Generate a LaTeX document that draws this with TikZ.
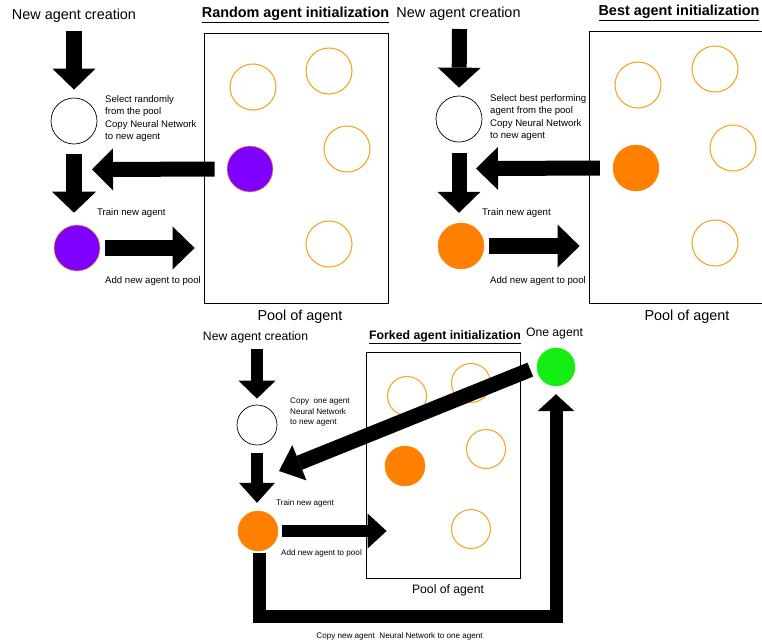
\documentclass[tikz,border=0pt]{standalone}
\usepackage{fontspec}
\setmainfont{Liberation Sans}
\usetikzlibrary{arrows.meta,calc}
\definecolor{agpurple}{RGB}{128,0,255}
\definecolor{agorange}{RGB}{255,128,0}
\definecolor{agring}{RGB}{245,166,35}
\definecolor{aggreen}{RGB}{20,238,20}
\begin{document}
\begin{tikzpicture}[x=1pt,y=-1pt,
  fat/.style n args={3}{line width=#1, line cap=butt, line join=miter,
    arrows={-{Triangle[width=#2,length=#3,line width=0pt]}}},
  ring/.style={circle, draw=agring, line width=1.1pt, inner sep=0pt, minimum size=#1},
  newag/.style={circle, draw=black, line width=0.7pt, fill=white, inner sep=0pt, minimum size=#1},
  purpleag/.style={circle, draw=agring, line width=0.6pt, fill=agpurple, inner sep=0pt, minimum size=#1},
  orangeag/.style={circle, draw=agorange, fill=agorange, inner sep=0pt, minimum size=#1},
  greenag/.style={circle, draw=aggreen, fill=aggreen, inner sep=0pt, minimum size=#1},
  poolbox/.style={draw=black, line width=0.8pt, inner sep=0pt},
  big/.style={font=\fontsize{14.4}{16}\selectfont, inner sep=0pt},
  mid/.style={font=\fontsize{12.2}{14}\selectfont, inner sep=0pt},
  ttl/.style={font=\fontsize{#1}{16}\selectfont\bfseries, inner sep=0pt},
  small/.style={font=\fontsize{9.6}{12.3}\selectfont, inner sep=0pt, align=left},
  tiny/.style={font=\fontsize{8.1}{10.5}\selectfont, inner sep=0pt, align=left}
]
\useasboundingbox (0,0) rectangle (762,643);
\clip (0,0) rectangle (762,643);

% ================= Random agent initialization =================
\node[big] (ncA) at (74,16) {New agent creation};
\node[ttl=14.4] (tA) at (295.5,15) {\underline{Random agent initialization}};
\node[poolbox, minimum width=184pt, minimum height=270pt] (poolA) at (296,168) {};
\node[big] (plA) at (300,317) {Pool of agent};
\node[newag=46pt] (wA) at (74,121) {};
\node[purpleag=46pt] (nA) at (77,248) {};
\node[ring=46pt] (rA1) at (253,87) {};
\node[ring=46pt] (rA2) at (329,71) {};
\node[ring=46pt] (rA3) at (347,149) {};
\node[ring=46pt] (rA4) at (329,244) {};
\node[purpleag=46pt] (sA) at (250,169) {};
\node[small, anchor=north west] (txA1) at (105,95.5) {Select randomly\\from the pool\\Copy Neural Network\\to new agent};
\node[small, anchor=west] (txA2) at (97,213) {Train new agent};
\node[small, anchor=west] (txA3) at (105,281) {Add new agent to pool};
\coordinate (sA1) at (74,31);
\coordinate (eA3) at (92,169.5);
\draw[fat={16pt}{43pt}{21pt}, shorten >=8pt] (sA1) -- (wA.north);
\draw[fat={16pt}{44pt}{21pt}, shorten <=10pt, shorten >=12pt] (wA.south) -- (wA.south |- nA.north);
\draw[fat={15pt}{42pt}{21pt}, shorten <=12pt] (sA.west) -- (eA3);
\draw[fat={16pt}{43pt}{22pt}, shorten <=5pt, shorten >=9pt] (nA.east) -- (nA.east -| poolA.west);

% ================= Best agent initialization =================
\node[big] (ncB) at (458.5,14) {New agent creation};
\node[ttl=14.4] (tB) at (679,13) {\underline{Best agent initialization}};
\node[poolbox, minimum width=190pt, minimum height=272pt] (poolB) at (684,167) {};
\node[big] (plB) at (687,317) {Pool of agent};
\node[newag=46pt] (wB) at (459,119) {};
\node[orangeag=46pt] (nB) at (461,246) {};
\node[ring=46pt] (rB1) at (638,85) {};
\node[ring=46pt] (rB2) at (715,69) {};
\node[ring=46pt] (rB3) at (733,148) {};
\node[ring=46pt] (rB4) at (715,243) {};
\node[orangeag=46pt] (sB) at (636,168) {};
\node[small, anchor=north west] (txB1) at (490,94.5) {Select best performing\\agent from the pool\\Copy Neural Network\\to new agent};
\node[small, anchor=west] (txB2) at (482,213) {Train new agent};
\node[small, anchor=west] (txB3) at (490,281) {Add new agent to pool};
\coordinate (sB1) at (459.5,29);
\coordinate (eB3) at (476,168.5);
\draw[fat={15pt}{43pt}{20pt}, shorten >=8pt] (sB1) -- (wB.north);
\draw[fat={15pt}{43pt}{21pt}, shorten <=11pt, shorten >=10pt] (wB.south) -- (wB.south |- nB.north);
\draw[fat={15pt}{43pt}{22pt}, shorten <=13pt] (sB.west) -- (eB3);
\draw[fat={16pt}{43pt}{22pt}, shorten <=5pt, shorten >=9pt] (nB.east) -- (nB.east -| poolB.west);

% ================= Forked agent initialization =================
\node[mid] (ncC) at (255.5,337) {New agent creation};
\node[ttl=12.3] (tC) at (445,337) {\underline{Forked agent initialization}};
\node[mid] (oneC) at (554.5,333) {One agent};
\node[poolbox, minimum width=154pt, minimum height=226pt] (poolC) at (443,465) {};
\node[mid] (plC) at (448,590) {Pool of agent};
\node[newag=40pt] (wC) at (257,425) {};
\node[orangeag=40pt] (nC) at (258,531) {};
\node[ring=39pt] (rC1) at (407,396) {};
\node[ring=39pt] (rC2) at (471,383) {};
\node[ring=39pt] (rC3) at (486,449) {};
\node[ring=39pt] (rC4) at (471,529) {};
\node[orangeag=40pt] (sC) at (405,466) {};
\node[greenag=38pt] (gC) at (556,367) {};
\node[tiny, anchor=north west] (txC1) at (290,398) {Copy\ \ one agent\\Neural Network\\to new agent};
\node[tiny, anchor=west] (txC2) at (276,503) {Train new agent};
\node[tiny, anchor=west] (txC3) at (281,553) {Add new agent to pool};
\node[tiny] (txC4) at (399.5,636) {Copy new agent\ \ Neural Network to one agent};
\coordinate (sC1) at (257,349);
\coordinate (eC3) at (279,471);
\draw[fat={12pt}{37pt}{18pt}, shorten >=6pt] (sC1) -- (wC.north);
\draw[fat={12pt}{36pt}{20pt}, shorten <=8pt, shorten >=8pt] (wC.south) -- (wC.south |- nC.north);
\draw[fat={12pt}{35pt}{19pt}, shorten <=4pt, shorten >=-21pt] (nC.east) -- (nC.east -| poolC.west);
\draw[fat={15pt}{38pt}{22pt}, shorten <=7pt] (gC.west) -- (eC3);
\coordinate (bC) at (259.5,616.5);
\draw[fat={13pt}{37pt}{17pt}, shorten <=2pt, shorten >=8pt] (nC.south -| bC) -- (bC) -| (gC.south);

\end{tikzpicture}
\end{document}
